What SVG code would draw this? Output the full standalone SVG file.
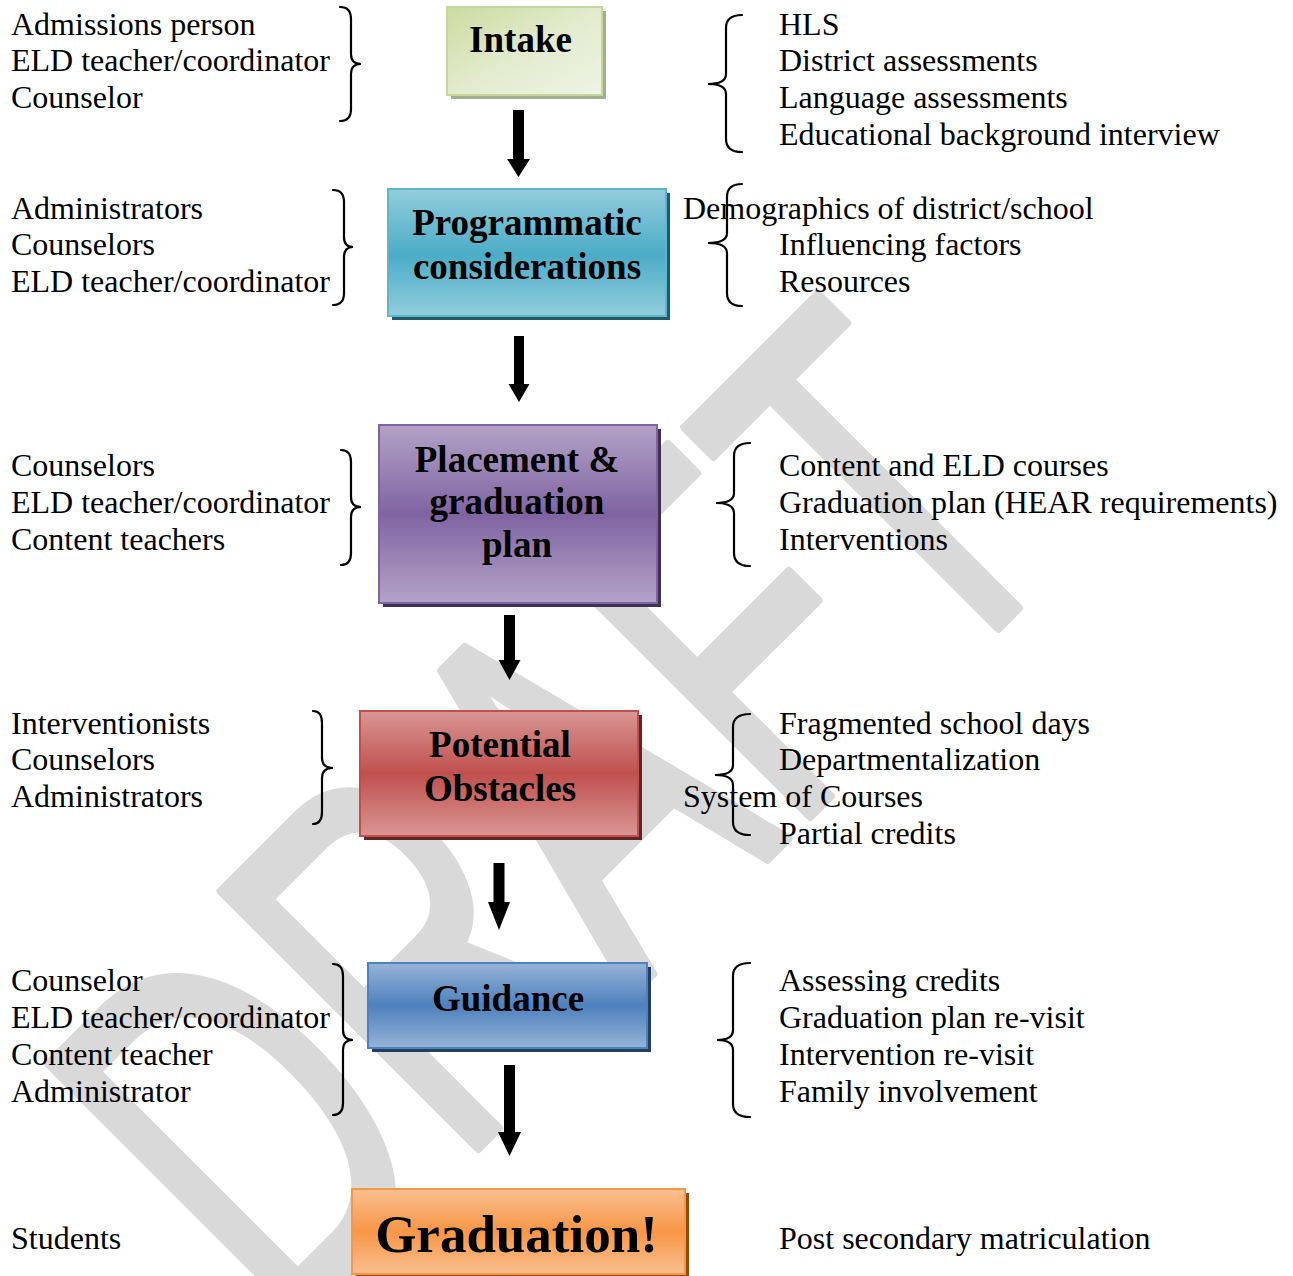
<svg xmlns="http://www.w3.org/2000/svg" width="1293" height="1276" viewBox="0 0 1293 1276">
<style>
.t{font-family:"Liberation Serif","Times New Roman",serif;font-size:32px;fill:#000}
.b{font-family:"Liberation Serif","Times New Roman",serif;font-size:37px;font-weight:bold;fill:#000;text-anchor:middle}
.br{fill:none;stroke:#000;stroke-width:2.2;stroke-linecap:round}
.ar{fill:#000}
.wm{font-family:"Liberation Sans",Arial,sans-serif;font-size:528px;fill:#d9d9d9;stroke:#d9d9d9;stroke-width:9;stroke-linejoin:round}
</style>
<defs>
<linearGradient id="gI" x1="0" y1="0" x2="1" y2="1">
<stop offset="0" stop-color="#cadc9f"/><stop offset="0.5" stop-color="#e2ebcd"/><stop offset="1" stop-color="#eff4e5"/>
</linearGradient>
<linearGradient id="gP" x1="0" y1="0" x2="0" y2="1">
<stop offset="0" stop-color="#93cddd"/><stop offset="0.52" stop-color="#4bacc6"/><stop offset="1" stop-color="#93cddd"/>
</linearGradient>
<linearGradient id="gL" x1="0" y1="0" x2="0" y2="1">
<stop offset="0" stop-color="#b3a2c7"/><stop offset="0.5" stop-color="#8064a2"/><stop offset="1" stop-color="#b3a2c7"/>
</linearGradient>
<linearGradient id="gO" x1="0" y1="0" x2="0" y2="1">
<stop offset="0" stop-color="#d99694"/><stop offset="0.5" stop-color="#c0504d"/><stop offset="1" stop-color="#d99694"/>
</linearGradient>
<linearGradient id="gG" x1="0" y1="0" x2="0" y2="1">
<stop offset="0" stop-color="#95b3d7"/><stop offset="0.5" stop-color="#4f81bd"/><stop offset="1" stop-color="#95b3d7"/>
</linearGradient>
<linearGradient id="gR" x1="0" y1="0" x2="0" y2="1">
<stop offset="0" stop-color="#fac090"/><stop offset="0.5" stop-color="#f79646"/><stop offset="1" stop-color="#fac090"/>
</linearGradient>
</defs>
<rect width="1293" height="1276" fill="#fff"/>
<g id="watermark" transform="rotate(-45)">
<text class="wm" transform="translate(-747,1150) scale(0.64,1)">DRAFT</text>
</g>
<g id="left-lists">
<text class="t" x="11" y="34.5">Admissions person</text>
<text class="t" x="11" y="70.5">ELD teacher/coordinator</text>
<text class="t" x="11" y="107.5">Counselor</text>
<path class="br" d="M340,7 Q351,7 351,19 L351,54 Q351,64 361,64 Q351,64 351,74 L351,109 Q351,121 340,121"/>
<text class="t" x="11" y="218.5">Administrators</text>
<text class="t" x="11" y="254.5">Counselors</text>
<text class="t" x="11" y="291.5">ELD teacher/coordinator</text>
<path class="br" d="M333,190 Q344,190 344,202 L344,237 Q344,247 353,247 Q344,247 344,257 L344,293 Q344,305 333,305"/>
<text class="t" x="11" y="475.5">Counselors</text>
<text class="t" x="11" y="512.5">ELD teacher/coordinator</text>
<text class="t" x="11" y="549.5">Content teachers</text>
<path class="br" d="M341,450 Q351,450 351,462 L351,497 Q351,507 361,507 Q351,507 351,517 L351,553 Q351,565 341,565"/>
<text class="t" x="11" y="733.5">Interventionists</text>
<text class="t" x="11" y="769.5">Counselors</text>
<text class="t" x="11" y="806.5">Administrators</text>
<path class="br" d="M313,711 Q322,711 322,723 L322,758 Q322,768 333,768 Q322,768 322,778 L322,812 Q322,824 313,824"/>
<text class="t" x="11" y="990.5">Counselor</text>
<text class="t" x="11" y="1027.5">ELD teacher/coordinator</text>
<text class="t" x="11" y="1064.5">Content teacher</text>
<text class="t" x="11" y="1101.5">Administrator</text>
<path class="br" d="M333,964 Q343,964 343,976 L343,1030 Q343,1040 353,1040 Q343,1040 343,1050 L343,1103 Q343,1115 333,1115"/>
<text class="t" x="11" y="1248.5">Students</text>
</g>
<g id="right-lists">
<text class="t" x="779" y="34.5">HLS</text>
<text class="t" x="779" y="70.5">District assessments</text>
<text class="t" x="779" y="107.5">Language assessments</text>
<text class="t" x="779" y="144.5">Educational background interview</text>
<path class="br" d="M742,15 Q726,15 726,28 L726,74 Q726,84 708,84 Q726,84 726,94 L726,139 Q726,152 742,152"/>
<text class="t" x="683" y="218.5">Demographics of district/school</text>
<text class="t" x="779" y="254.5">Influencing factors</text>
<text class="t" x="779" y="291.5">Resources</text>
<path class="br" d="M742,184 Q727,184 727,197 L727,233 Q727,243 708,243 Q727,243 727,253 L727,293 Q727,306 742,306"/>
<text class="t" x="779" y="475.5">Content and ELD courses</text>
<text class="t" x="779" y="512.5">Graduation plan (HEAR requirements)</text>
<text class="t" x="779" y="549.5">Interventions</text>
<path class="br" d="M750,443 Q734,443 734,456 L734,493 Q734,503 716,503 Q734,503 734,513 L734,553 Q734,566 750,566"/>
<text class="t" x="779" y="733.5">Fragmented school days</text>
<text class="t" x="779" y="769.5">Departmentalization</text>
<text class="t" x="683" y="806.5">System of Courses</text>
<text class="t" x="779" y="843.5">Partial credits</text>
<path class="br" d="M750,714 Q733,714 733,727 L733,765 Q733,775 715,775 Q733,775 733,785 L733,822 Q733,835 750,835"/>
<text class="t" x="779" y="990.5">Assessing credits</text>
<text class="t" x="779" y="1027.5">Graduation plan re-visit</text>
<text class="t" x="779" y="1064.5">Intervention re-visit</text>
<text class="t" x="779" y="1101.5">Family involvement</text>
<path class="br" d="M750,963 Q733,963 733,976 L733,1030 Q733,1040 717,1040 Q733,1040 733,1050 L733,1104 Q733,1117 750,1117"/>
<text class="t" x="779" y="1248.5">Post secondary matriculation</text>
</g>
<g id="intake">
<rect x="451" y="11" width="155" height="88" fill="#a3ae8c"/>
<rect x="447" y="7" width="155" height="88" fill="url(#gI)" stroke="#c3d69b" stroke-width="2"/>
<text class="b" x="520.5" y="52">Intake</text>
</g>
<g id="programmatic">
<rect x="392" y="193" width="278" height="127" fill="#215968"/>
<rect x="388" y="189" width="278" height="127" fill="url(#gP)" stroke="#5fb5cc" stroke-width="2"/>
<text class="b" x="527" y="235">Programmatic</text>
<text class="b" x="527" y="279">considerations</text>
</g>
<g id="placement">
<rect x="383" y="429" width="278" height="178" fill="#3f3151"/>
<rect x="379" y="425" width="278" height="178" fill="url(#gL)" stroke="#8064a2" stroke-width="2"/>
<text class="b" x="517" y="471.5">Placement &amp;</text>
<text class="b" x="517" y="514">graduation</text>
<text class="b" x="517" y="557">plan</text>
</g>
<g id="obstacles">
<rect x="364" y="715" width="278" height="125" fill="#632523"/>
<rect x="360" y="711" width="278" height="125" fill="url(#gO)" stroke="#c0504d" stroke-width="2"/>
<text class="b" x="500" y="757">Potential</text>
<text class="b" x="500" y="800.5">Obstacles</text>
</g>
<g id="guidance">
<rect x="372" y="967" width="279" height="85" fill="#243f60"/>
<rect x="368" y="963" width="279" height="85" fill="url(#gG)" stroke="#4f81bd" stroke-width="2"/>
<text class="b" x="508" y="1010.5">Guidance</text>
</g>
<g id="graduation">
<rect x="356" y="1193" width="333" height="85" fill="#984807"/>
<rect x="352" y="1189" width="333" height="85" fill="url(#gR)" stroke="#f79646" stroke-width="2"/>
<text class="b" x="516.5" y="1251.5" style="font-size:53px">Graduation!</text>
</g>
<g id="connectors">
<polygon class="ar" points="513,110 524,110 524,159 530,159 518.5,177 507,159 513,159"/>
<polygon class="ar" points="514,336 524,336 524,384 529.5,384 519,402 508.5,384 514,384"/>
<polygon class="ar" points="504,615 515,615 515,660 520.5,660 509.5,680 498.5,660 504,660"/>
<polygon class="ar" points="493.5,863 504.5,863 504.5,902 510,902 499,930 488,902 493.5,902"/>
<polygon class="ar" points="504,1065 515,1065 515,1132 521,1132 509.5,1156 498,1132 504,1132"/>
</g>
</svg>
